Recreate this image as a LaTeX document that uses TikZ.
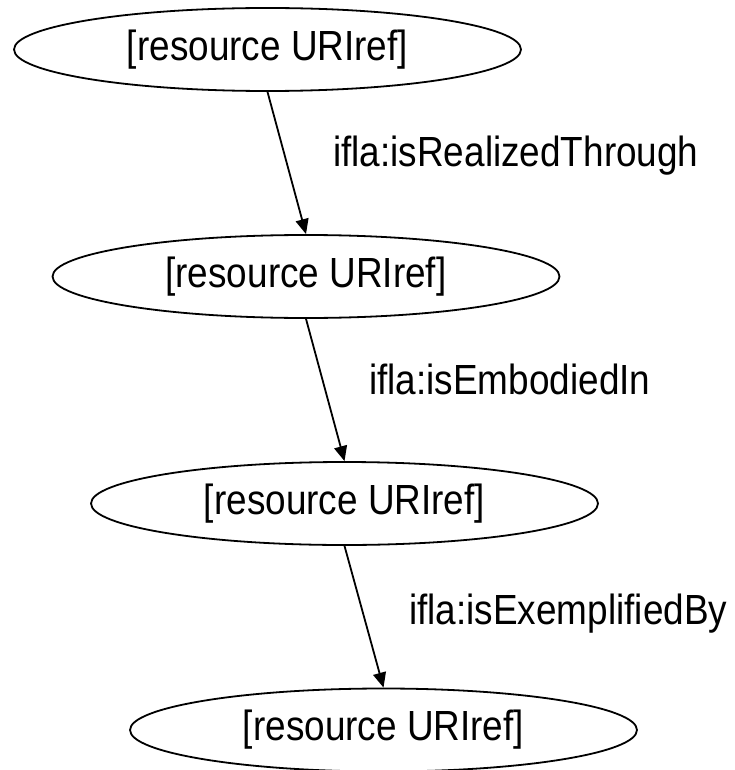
\documentclass[tikz,border=0pt]{standalone}
\usepackage{fontspec}
\setmainfont{Liberation Sans}
\usetikzlibrary{shapes.geometric,arrows.meta}
\newcommand{\tallt}[1]{\scalebox{0.99}[1.13]{#1}}
\begin{document}
\begin{tikzpicture}[x=1pt,y=-1pt,
  res/.style={draw,ellipse,line width=1.8pt,inner sep=0pt,minimum width=507pt,minimum height=83pt,
    font=\fontsize{37.3}{44}\selectfont},
  rel/.style={line width=1.8pt,-{Triangle[length=15pt,width=13pt]}},
  lbl/.style={anchor=base west,inner sep=0pt,font=\fontsize{37.3}{44}\selectfont}]
\useasboundingbox (0,0) rectangle (734,770);
\node[res] (n1) at (267.5,49.5) {\tallt{[resource URIref]}};
\node[res] (n2) at (306,276.5) {\tallt{[resource URIref]}};
\node[res] (n3) at (344.5,503.5) {\tallt{[resource URIref]}};
\node[res] (n4) at (383.5,730) {\tallt{[resource URIref]}};
\draw[rel] (n1.south) -- (n2.north);
\draw[rel] (n2.south) -- (n3.north);
\draw[rel] (n3.south) -- (n4.north);
\node[lbl] (l1) at (333,167) {\tallt{ifla:isRealizedThrough}};
\node[lbl] (l2) at (369,394) {\tallt{ifla:isEmbodiedIn}};
\node[lbl] (l3) at (409,624) {\tallt{ifla:isExemplifiedBy}};
\end{tikzpicture}
\end{document}
